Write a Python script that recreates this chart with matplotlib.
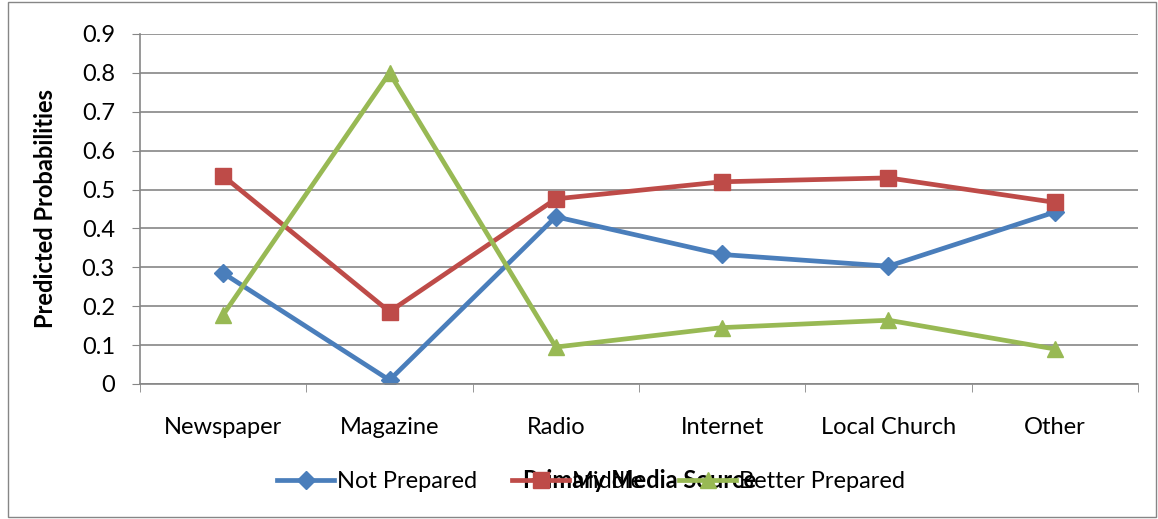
import matplotlib
matplotlib.use('Agg')
import matplotlib.pyplot as plt
import numpy as np
from matplotlib.patches import Rectangle

categories = ['Newspaper', 'Magazine', 'Radio', 'Internet', 'Local Church', 'Other']
not_prepared = [0.285, 0.01, 0.43, 0.333, 0.303, 0.442]
middle = [0.535, 0.186, 0.476, 0.52, 0.53, 0.467]
better_prepared = [0.178, 0.80, 0.095, 0.145, 0.164, 0.09]
y_ticks = [0, 0.1, 0.2, 0.3, 0.4, 0.5, 0.6, 0.7, 0.8, 0.9]

plt.rcParams['font.family'] = ['Lato', 'DejaVu Sans']

fig = plt.figure(figsize=(11.58, 5.19), dpi=100)
ax = fig.add_axes([140 / 1158, 1 - 384 / 519, 998 / 1158, 350 / 519])

x = np.arange(len(categories))
ax.plot(x, not_prepared, color='#4A7EBB', lw=3.4, marker='D', ms=9, label='Not Prepared')
ax.plot(x, middle, color='#BE4B48', lw=3.4, marker='s', ms=11, label='Middle')
ax.plot(x, better_prepared, color='#98B954', lw=3.4, marker='^', ms=12, label='Better Prepared')

ax.set_xlim(-0.5, len(categories) - 0.5)
ax.set_ylim(0, 0.9)
ax.set_yticks(y_ticks)
ax.set_yticklabels(['0' if v == 0 else '%.1f' % v for v in y_ticks], fontsize=17)
ax.set_xticks(x)
ax.set_xticklabels(categories, fontsize=17)
ax.set_xticks(np.arange(-0.5, len(categories)), minor=True)
ax.tick_params(axis='x', which='major', length=0, pad=24)
ax.tick_params(axis='x', which='minor', length=6, color='#868686', direction='out')
ax.tick_params(axis='y', length=6, color='#868686', pad=12)

ax.grid(axis='y', color='#868686', lw=1.2)
ax.set_axisbelow(True)
for s in ['top', 'right']:
    ax.spines[s].set_visible(False)
for s in ['left', 'bottom']:
    ax.spines[s].set_color('#868686')
    ax.spines[s].set_linewidth(1.2)

ax.set_ylabel('Predicted Probabilities', fontsize=17, fontweight='bold', labelpad=18)
fig.text(640 / 1158, 1 - 480 / 519, 'Primary Media Source', fontsize=17,
         fontweight='bold', ha='center', va='center')

fig.legend(loc='center', bbox_to_anchor=(591 / 1158, 1 - 482 / 519), ncol=3,
           frameon=False, fontsize=17, handlelength=2.4, columnspacing=1.5,
           handletextpad=0.12)

fig.patches.append(Rectangle((8 / 1158, 2 / 519), 1148 / 1158, 515 / 519,
                             transform=fig.transFigure, fill=False,
                             edgecolor='#868686', lw=1))

fig.savefig('out.png', dpi=100)
